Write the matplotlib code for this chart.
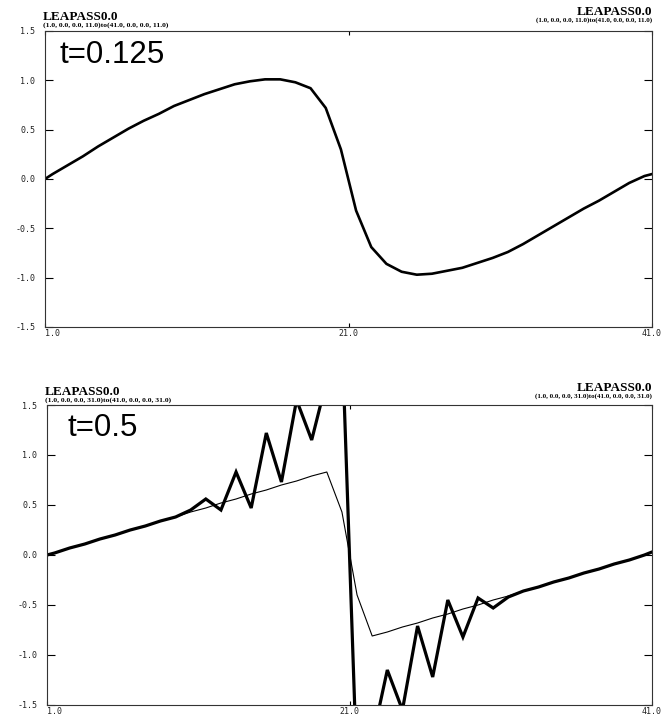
import numpy as np
import matplotlib
matplotlib.use("Agg")
import matplotlib.pyplot as plt

# grid: boundary points plus cell centres
x = np.concatenate([[1.0], np.arange(1.5, 41.0, 1.0), [41.0]])

# t = 0.125 solution
u_early = [0.00, 0.05, 0.14, 0.23, 0.33, 0.42, 0.51, 0.59, 0.66, 0.74,
           0.80, 0.86, 0.91, 0.96, 0.99, 1.01, 1.01, 0.98, 0.92, 0.72,
           0.30, -0.32, -0.69, -0.86, -0.94, -0.97, -0.96, -0.93, -0.90, -0.85,
           -0.80, -0.74, -0.66, -0.57, -0.48, -0.39, -0.30, -0.22, -0.13, -0.04,
           0.03, 0.05]

# t = 0.5: reference (thin) and computed (thick) solutions
u_exact = [0.00, 0.02, 0.07, 0.11, 0.16, 0.20, 0.25, 0.29, 0.34, 0.38,
           0.43, 0.47, 0.52, 0.56, 0.61, 0.65, 0.70, 0.74, 0.79, 0.83,
           0.43, -0.40, -0.81, -0.77, -0.72, -0.68, -0.63, -0.59, -0.54, -0.50,
           -0.45, -0.41, -0.36, -0.32, -0.27, -0.23, -0.18, -0.14, -0.09, -0.05,
           0.00, 0.03]
u_num = [0.00, 0.02, 0.07, 0.11, 0.16, 0.20, 0.25, 0.29, 0.34, 0.38,
         0.45, 0.56, 0.45, 0.83, 0.47, 1.22, 0.73, 1.55, 1.15, 1.75,
         2.20, -2.20, -1.85, -1.15, -1.55, -0.71, -1.22, -0.45, -0.82, -0.43,
         -0.53, -0.42, -0.36, -0.32, -0.27, -0.23, -0.18, -0.14, -0.09, -0.05,
         0.00, 0.03]

yticks = [-1.5, -1.0, -0.5, 0.0, 0.5, 1.0, 1.5]
xticks = [1.0, 21.0, 41.0]
title = "LEAPASS0.0"
sub_top = "(1.0, 0.0, 0.0, 11.0)to(41.0, 0.0, 0.0, 11.0)"
sub_bot = "(1.0, 0.0, 0.0, 31.0)to(41.0, 0.0, 0.0, 31.0)"

W, H = 662, 717
fig = plt.figure(figsize=(W / 100, H / 100), dpi=100)


def fx(p):
    return p / W


def fy(p):
    return 1 - p / H


def setup(ax):
    ax.set_xlim(1, 41)
    ax.set_ylim(-1.5, 1.5)
    ax.set_yticks(yticks)
    ax.set_yticklabels([f"{v:.1f}" for v in yticks],
                       family="DejaVu Sans Mono", fontsize=6, color="#222222")
    ax.set_xticks(xticks)
    labs = ax.set_xticklabels([f"{v:.1f}" for v in xticks],
                              family="DejaVu Sans Mono", fontsize=6, color="#222222")
    labs[0].set_ha("left")
    ax.tick_params(axis="y", direction="in", length=6, width=0.8,
                   pad=7, left=True, right=True)
    ax.tick_params(axis="x", direction="in", length=3, width=0.8,
                   pad=1.5, top=True, bottom=True)
    for s in ax.spines.values():
        s.set_linewidth(0.8)
        s.set_color("#333333")


ax1 = fig.add_axes([fx(45), fy(327), fx(607), 296 / H])
ax1.plot(x, u_early, color="black", lw=1.9, solid_joinstyle="round")
setup(ax1)
ax1.text(fx(60 - 45) / (607 / W), 1 - (63 - 31) / 296, "t=0.125",
         transform=ax1.transAxes, family="Liberation Sans", fontsize=22.5,
         va="baseline", ha="left")

ax2 = fig.add_axes([fx(47), fy(705), fx(605), 300 / H])
ax2.plot(x, u_exact, color="black", lw=0.8)
ax2.plot(x, u_num, color="black", lw=2.3, solid_joinstyle="miter")
setup(ax2)
ax2.text(fx(67 - 47) / (605 / W), 1 - (436 - 405) / 300, "t=0.5",
         transform=ax2.transAxes, family="Liberation Sans", fontsize=22.5,
         va="baseline", ha="left")

# run headers above each panel
hdr = dict(family="Liberation Serif", weight="bold", va="baseline")
fig.text(fx(43), fy(20), title, fontsize=9.5, ha="left", **hdr)
fig.text(fx(43), fy(27), sub_top, fontsize=5.4, ha="left", **hdr)
fig.text(fx(652), fy(15), title, fontsize=9.5, ha="right", **hdr)
fig.text(fx(652), fy(22), sub_top, fontsize=5.0, ha="right", **hdr)

fig.text(fx(45), fy(395), title, fontsize=9.5, ha="left", **hdr)
fig.text(fx(45), fy(402), sub_bot, fontsize=5.4, ha="left", **hdr)
fig.text(fx(652), fy(391), title, fontsize=9.5, ha="right", **hdr)
fig.text(fx(652), fy(398), sub_bot, fontsize=5.0, ha="right", **hdr)

fig.savefig("out.png", dpi=100)
